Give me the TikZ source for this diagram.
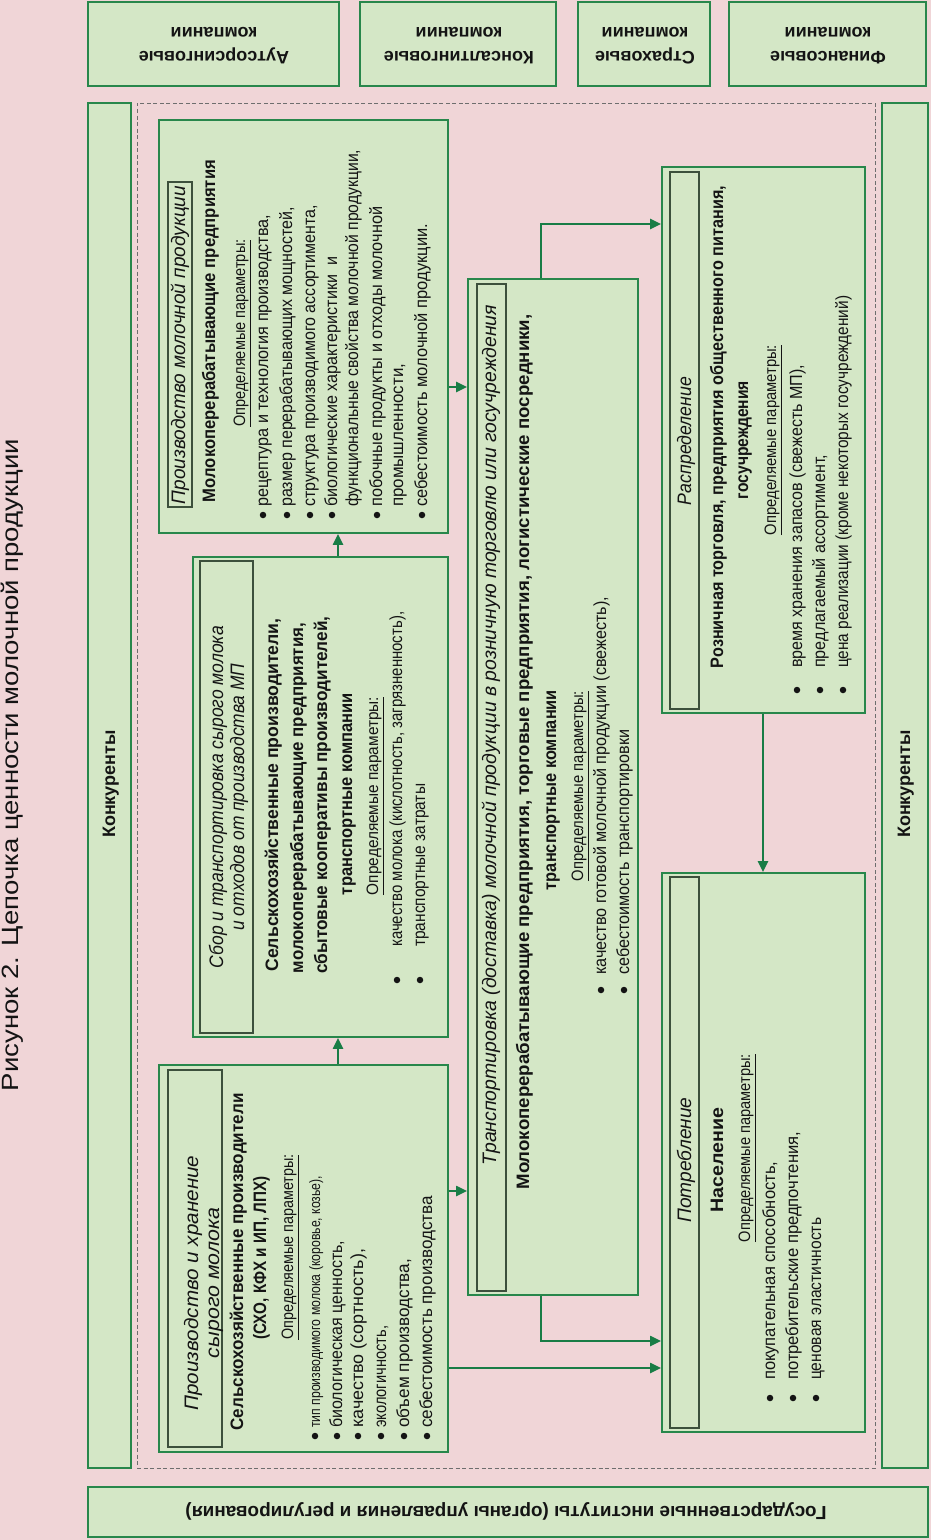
\documentclass[tikz,border=0pt]{standalone}
\usepackage{fontspec}
\setmainfont{Liberation Sans}
\usepackage{graphicx}
\usetikzlibrary{arrows.meta}
\definecolor{bgpink}{RGB}{240,213,215}
\definecolor{boxfill}{RGB}{212,231,198}
\definecolor{boxline}{RGB}{40,135,75}
\definecolor{arrowc}{RGB}{25,125,70}
\definecolor{innerline}{RGB}{60,80,60}
\definecolor{dashc}{RGB}{110,110,110}
\definecolor{txt}{RGB}{20,20,20}
\newcommand{\fitw}[2]{\resizebox{#1pt}{\height}{#2}}
\begin{document}
\begin{tikzpicture}[x=1pt,y=-1pt,
  box/.style={draw=boxline, line width=1.8pt, fill=boxfill, inner sep=0pt, rectangle},
  ibox/.style={draw=innerline, line width=1.1pt, inner sep=0pt, rectangle},
  dbox/.style={draw=dashc, line width=1pt, dash pattern=on 4pt off 2.5pt, inner sep=0pt, rectangle},
  arr/.style={draw=arrowc, line width=2.2pt, -{Triangle[length=11pt,width=10pt]}},
  rt/.style={rotate=90, inner sep=0pt, text height=10pt, text depth=0pt, text=txt},
  ut/.style={rotate=180, inner sep=0pt, text height=10pt, text depth=0pt, text=txt},
  reg/.style={font=\fontsize{17.5}{20}\selectfont},
  bld/.style={font=\fontsize{18}{21}\selectfont\bfseries},
  itl/.style={font=\fontsize{19.5}{22}\selectfont\itshape},
  und/.style={font=\fontsize{16.5}{19}\selectfont},
  tb/.style={font=\fontsize{18}{21}\selectfont\bfseries},
  bul/.style={circle, fill=txt, inner sep=0pt, minimum size=6.5pt},
]
\fill[bgpink] (0,0) rectangle (931,1540);
\useasboundingbox (0,0) rectangle (931,1540);

% title
\node[rt, font=\fontsize{23.5}{26}\selectfont] (title) at (14,765) {\fitw{652}{Рисунок 2. Цепочка ценности молочной продукции}};

% top boxes
\node[box, minimum width=251pt, minimum height=84pt] (T1) at (213.5,44) {};
\node[box, minimum width=196pt, minimum height=84pt] (T2) at (458,44) {};
\node[box, minimum width=132pt, minimum height=84pt] (T3) at (644,44) {};
\node[box, minimum width=197pt, minimum height=84pt] (T4) at (827.5,44) {};
\node[ut, tb] (T1a) at (214,56) {Аутсорсинговые};
\node[ut, tb] (T1b) at (214,32) {компании};
\node[ut, tb] (T2a) at (459,56) {Консалтинговые};
\node[ut, tb] (T2b) at (459,32) {компании};
\node[ut, tb] (T3a) at (645,56) {Страховые};
\node[ut, tb] (T3b) at (645,32) {компании};
\node[ut, tb] (T4a) at (828,56) {Финансовые};
\node[ut, tb] (T4b) at (828,32) {компании};

% competitors, frame, government
\node[box, minimum width=43pt, minimum height=1365pt] (K1) at (109.5,785.5) {};
\node[box, minimum width=46pt, minimum height=1365pt] (K2) at (905,785.5) {};
\node[dbox, minimum width=738pt, minimum height=1365pt] (frame) at (506,785.5) {};
\node[box, minimum width=840pt, minimum height=50pt] (G) at (508,1512) {};
\node[rt, font=\fontsize{18}{20}\selectfont\bfseries] (K1t) at (110,784) {Конкуренты};
\node[rt, font=\fontsize{18}{20}\selectfont\bfseries] (K2t) at (905,784) {Конкуренты};
\node[ut, font=\fontsize{19}{21}\selectfont\bfseries] (Gt) at (506,1511) {\fitw{641}{Государственные институты (органы управления и регулирования)}};

% main boxes
\node[box, minimum width=289pt, minimum height=387pt] (A) at (303.5,1258.5) {};
\node[ibox, minimum width=54pt, minimum height=377pt] (Ai) at (195,1258.5) {};
\node[box, minimum width=255pt, minimum height=480pt] (B) at (320.5,797) {};
\node[ibox, minimum width=53pt, minimum height=472pt] (Bi) at (226.5,797) {};
\node[box, minimum width=289pt, minimum height=413pt] (C) at (303.5,326.5) {};
\node[ibox, minimum width=24pt, minimum height=325pt] (Ci) at (180,344.5) {};
\node[box, minimum width=170pt, minimum height=1016pt] (D) at (553,787) {};
\node[ibox, minimum width=29pt, minimum height=1007pt] (Di) at (491.5,787.5) {};
\node[box, minimum width=203pt, minimum height=546pt] (E) at (763.5,440) {};
\node[ibox, minimum width=29pt, minimum height=537pt] (Ei) at (684.5,440.5) {};
\node[box, minimum width=203pt, minimum height=559pt] (F) at (763.5,1152.5) {};
\node[ibox, minimum width=29pt, minimum height=551pt] (Fi) at (684.5,1152.5) {};

% ---- box C text
\node[rt, itl] (ct) at (180,345) {\fitw{318}{Производство молочной продукции}};
\node[rt, bld] (cb) at (210,331) {\fitw{342}{Молокоперерабатывающие предприятия}};
\node[rt, und] (co) at (240,333) {\fitw{187}{\underline{Определяемые параметры:}}};
\node[bul] (cp1) at (263,515) {};
\node[bul] (cp2) at (287,515) {};
\node[bul] (cp3) at (310,515) {};
\node[bul] (cp4) at (332,515) {};
\node[bul] (cp5) at (377,515) {};
\node[bul] (cp6) at (422,515) {};
\node[rt, reg, anchor=west] (cl1) at (263,507) {\fitw{292}{рецептура и технология производства,}};
\node[rt, reg, anchor=west] (cl2) at (287,507) {\fitw{300}{размер перерабатывающих мощностей,}};
\node[rt, reg, anchor=west] (cl3) at (310,507) {\fitw{302}{структура производимого ассортимента,}};
\node[rt, reg, anchor=west] (cl4) at (332,507) {\fitw{250}{биологические характеристики\ \ и}};
\node[rt, reg, anchor=west] (cl5) at (353,507) {\fitw{357}{функциональные свойства молочной продукции,}};
\node[rt, reg, anchor=west] (cl6) at (377,507) {\fitw{300}{побочные продукты и отходы молочной}};
\node[rt, reg, anchor=west] (cl7) at (398,507) {\fitw{143}{промышленности,}};
\node[rt, reg, anchor=west] (cl8) at (422,507) {\fitw{283}{себестоимость молочной продукции.}};

% ---- box B text
\node[rt, itl] (bt1) at (218,797) {\fitw{342}{Сбор и транспортировка сырого молока}};
\node[rt, itl] (bt2) at (239,797) {\fitw{267}{и отходов от производства МП}};
\node[rt, bld] (bb1) at (273,795) {\fitw{353}{Сельскохозяйственные производители,}};
\node[rt, bld] (bb2) at (298,798) {\fitw{350}{молокоперерабатывающие предприятия,}};
\node[rt, bld] (bb3) at (322,795) {\fitw{357}{сбытовые кооперативы производителей,}};
\node[rt, bld] (bb4) at (347,794) {\fitw{202}{транспортные компании}};
\node[rt, und] (bo) at (373,796) {\fitw{198}{\underline{Определяемые параметры:}}};
\node[bul] (bp1) at (397,980) {};
\node[bul] (bp2) at (420,980) {};
\node[rt, reg, anchor=west] (bl1) at (397,947) {\fitw{335}{качество молока (кислотность, загрязненность),}};
\node[rt, reg, anchor=west] (bl2) at (420,947) {\fitw{163}{транспортные затраты}};

% ---- box A text
\node[rt, itl] (at1) at (193,1283) {\fitw{255}{Производство и хранение}};
\node[rt, itl] (at2) at (214,1283) {\fitw{150}{сырого молока}};
\node[rt, bld] (ab1) at (238,1262) {\fitw{337}{Сельскохозяйственные производители}};
\node[rt, bld] (ab2) at (261,1258) {\fitw{163}{(СХО, КФХ и ИП, ЛПХ)}};
\node[rt, und] (ao) at (288,1247) {\fitw{185}{\underline{Определяемые параметры:}}};
\node[bul] (ap1) at (315,1436) {};
\node[bul] (ap2) at (337,1436) {};
\node[bul] (ap3) at (358,1436) {};
\node[bul] (ap4) at (381,1436) {};
\node[bul] (ap5) at (404,1436) {};
\node[bul] (ap6) at (427,1436) {};
\node[rt, font=\fontsize{15}{18}\selectfont, anchor=west] (al1) at (315,1428) {\fitw{252}{тип производимого молока (коровье, козье),}};
\node[rt, reg, anchor=west] (al2) at (337,1428) {\fitw{187}{биологическая ценность,}};
\node[rt, reg, anchor=west] (al3) at (358,1428) {\fitw{179}{качество (сортность),}};
\node[rt, reg, anchor=west] (al4) at (381,1428) {\fitw{102}{экологичность,}};
\node[rt, reg, anchor=west] (al5) at (404,1428) {\fitw{169}{объем производства,}};
\node[rt, reg, anchor=west] (al6) at (427,1428) {\fitw{232}{себестоимость производства}};

% ---- box D text
\node[rt, itl] (dt) at (491,735) {\fitw{860}{Транспортировка (доставка) молочной продукции в розничную торговлю или госучреждения}};
\node[rt, bld] (db1) at (524,752) {\fitw{875}{Молокоперерабатывающие предприятия, торговые предприятия, логистические посредники,}};
\node[rt, bld] (db2) at (551,790) {\fitw{200}{транспортные компании}};
\node[rt, und] (do) at (578,786) {\fitw{190}{\underline{Определяемые параметры:}}};
\node[bul] (dp1) at (601,990) {};
\node[bul] (dp2) at (624,990) {};
\node[rt, reg, anchor=west] (dl1) at (601,975) {\fitw{378}{качество готовой молочной продукции (свежесть),}};
\node[rt, reg, anchor=west] (dl2) at (624,975) {\fitw{245}{себестоимость транспортировки}};

% ---- box E text
\node[rt, itl] (et) at (686,441) {\fitw{128}{Распределение}};
\node[rt, bld] (eb1) at (718,427) {\fitw{482}{Розничная торговля, предприятия общественного питания,}};
\node[rt, bld] (eb2) at (743,440) {\fitw{118}{госучреждения}};
\node[rt, und] (eo) at (771,440) {\fitw{190}{\underline{Определяемые параметры:}}};
\node[bul] (ep1) at (797,690) {};
\node[bul] (ep2) at (820,690) {};
\node[bul] (ep3) at (843,690) {};
\node[rt, reg, anchor=west] (el1) at (797,668) {\fitw{303}{время хранения запасов (свежесть МП),}};
\node[rt, reg, anchor=west] (el2) at (820,668) {\fitw{213}{предлагаемый ассортимент,}};
\node[rt, reg, anchor=west] (el3) at (843,668) {\fitw{372}{цена реализации (кроме некоторых госучреждений)}};

% ---- box F text
\node[rt, itl] (ft) at (686,1160) {\fitw{125}{Потребление}};
\node[rt, bld] (fb) at (718,1160) {\fitw{105}{Население}};
\node[rt, und] (fo) at (745,1148) {\fitw{188}{\underline{Определяемые параметры:}}};
\node[bul] (fp1) at (770,1398) {};
\node[bul] (fp2) at (793,1398) {};
\node[bul] (fp3) at (816,1398) {};
\node[rt, reg, anchor=west] (fl1) at (770,1380) {\fitw{218}{покупательная способность,}};
\node[rt, reg, anchor=west] (fl2) at (793,1380) {\fitw{248}{потребительские предпочтения,}};
\node[rt, reg, anchor=west] (fl3) at (816,1380) {\fitw{162}{ценовая эластичность}};

% ---- connectors
\coordinate (v1) at (338,0);
\coordinate (v2) at (541,0);
\coordinate (v3) at (763,0);
\coordinate (h1) at (0,387);
\coordinate (h2) at (0,1191);
\coordinate (h3) at (0,224);
\coordinate (h4) at (0,1341);
\coordinate (h5) at (0,1368);
\draw[arr] (A.north -| v1) -- (B.south -| v1);
\draw[arr] (B.north -| v1) -- (C.south -| v1);
\draw[arr] (C.east |- h1) -- (D.west |- h1);
\draw[arr] (A.east |- h2) -- (D.west |- h2);
\draw[arr] (D.north -| v2) |- (E.west |- h3);
\draw[arr] (E.south -| v3) -- (F.north -| v3);
\draw[arr] (D.south -| v2) |- (F.west |- h4);
\draw[arr] (A.east |- h5) -- (F.west |- h5);
\end{tikzpicture}
\end{document}
